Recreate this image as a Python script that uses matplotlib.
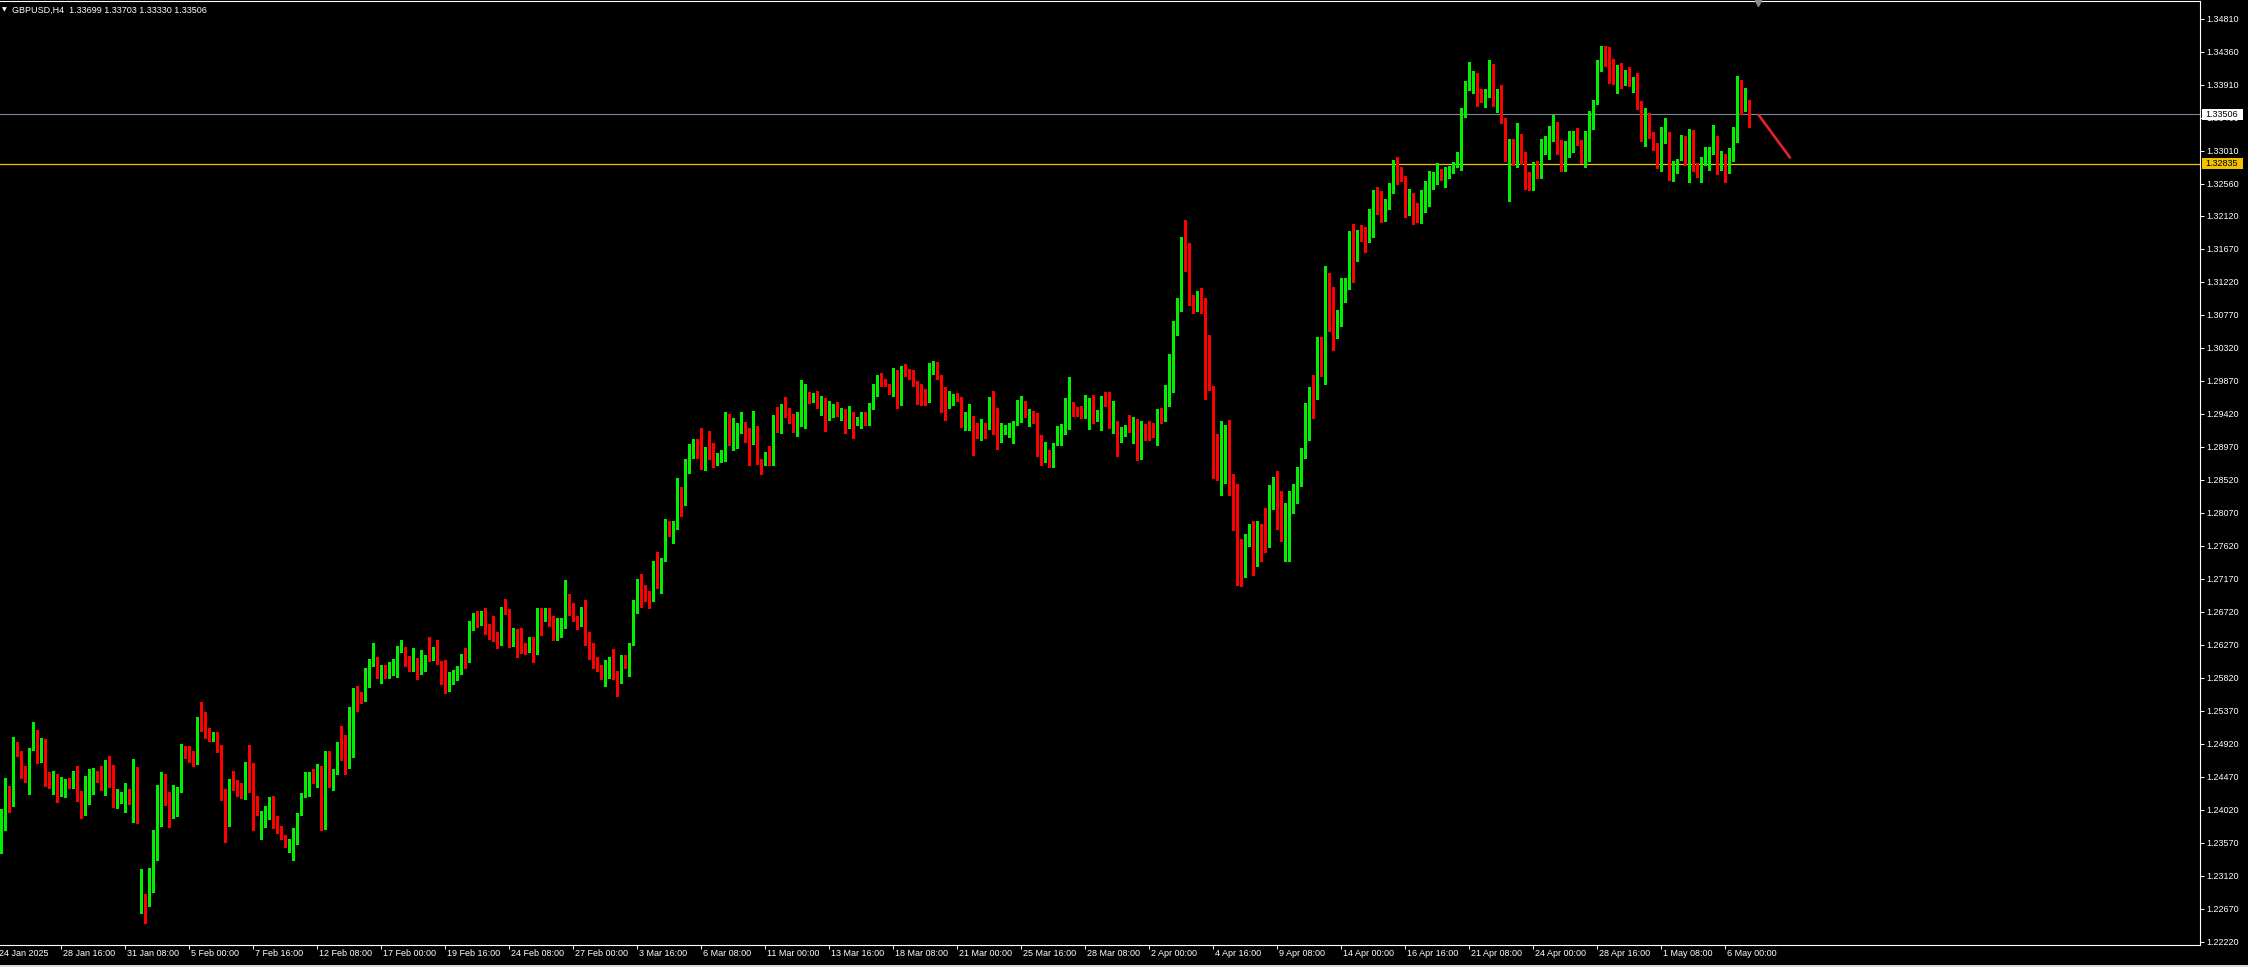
import matplotlib
matplotlib.use("Agg")
import matplotlib.pyplot as plt
import matplotlib.transforms as mtransforms
from matplotlib.patches import Rectangle
from matplotlib.lines import Line2D
import numpy as np

plt.rcParams["font.family"] = ["Liberation Sans", "DejaVu Sans"]

# GBPUSD H4 candles (one row = 10 bars)
closes = [
    1.2399, 1.2428, 1.2413, 1.2488, 1.2482, 1.2446, 1.2445, 1.2485, 1.2501, 1.2473,
    1.2499, 1.2447, 1.2443, 1.2447, 1.2421, 1.2428, 1.2439, 1.2435, 1.2454, 1.2418,
    1.2396, 1.2441, 1.2444, 1.2448, 1.2446, 1.2441, 1.2466, 1.2443, 1.2414, 1.2418,
    1.2420, 1.2421, 1.2411, 1.2454, 1.2388, 1.2287, 1.2275, 1.2291, 1.2364, 1.2394,
    1.2447, 1.2420, 1.2395, 1.2424, 1.2428, 1.2482, 1.2478, 1.2469, 1.2466, 1.2516,
    1.2512, 1.2507, 1.2501, 1.2507, 1.2482, 1.2424, 1.2381, 1.2441, 1.2432, 1.2430,
    1.2420, 1.2459, 1.2428, 1.2401, 1.2396, 1.2383, 1.2401, 1.2407, 1.2389, 1.2379,
    1.2364, 1.2359, 1.2361, 1.2366, 1.2398, 1.2422, 1.2446, 1.2450, 1.2443, 1.2446,
    1.2386, 1.2477, 1.2441, 1.2456, 1.2490, 1.2489, 1.2469, 1.2521, 1.2566, 1.2563,
    1.2552, 1.2587, 1.2602, 1.2609, 1.2583, 1.2600, 1.2586, 1.2590, 1.2593, 1.2623,
    1.2624, 1.2604, 1.2597, 1.2606, 1.2590, 1.2600, 1.2612, 1.2611, 1.2624, 1.2602,
    1.2589, 1.2571, 1.2585, 1.2586, 1.2593, 1.2613, 1.2611, 1.2651, 1.2668, 1.2654,
    1.2660, 1.2649, 1.2643, 1.2642, 1.2627, 1.2677, 1.2673, 1.2636, 1.2645, 1.2638,
    1.2619, 1.2617, 1.2637, 1.2622, 1.2671, 1.2661, 1.2666, 1.2665, 1.2637, 1.2653,
    1.2654, 1.2684, 1.2675, 1.2663, 1.2653, 1.2679, 1.2631, 1.2611, 1.2600, 1.2593,
    1.2584, 1.2594, 1.2603, 1.2588, 1.2577, 1.2608, 1.2604, 1.2629, 1.2679, 1.2716,
    1.2700, 1.2695, 1.2694, 1.2724, 1.2721, 1.2745, 1.2794, 1.2776, 1.2796, 1.2836,
    1.2821, 1.2880, 1.2894, 1.2905, 1.2901, 1.2876, 1.2897, 1.2886, 1.2878, 1.2884,
    1.2885, 1.2938, 1.2901, 1.2907, 1.2921, 1.2929, 1.2911, 1.2908, 1.2926, 1.2876,
    1.2873, 1.2889, 1.2876, 1.2934, 1.2930, 1.2949, 1.2941, 1.2935, 1.2930, 1.2934,
    1.2936, 1.2967, 1.2960, 1.2967, 1.2957, 1.2960, 1.2936, 1.2941, 1.2945, 1.2941,
    1.2949, 1.2926, 1.2938, 1.2927, 1.2937, 1.2938, 1.2932, 1.2953, 1.2979, 1.2991,
    1.2983, 1.2981, 1.2973, 1.3001, 1.2967, 1.3005, 1.2999, 1.2992, 1.2983, 1.2971,
    1.2964, 1.2962, 1.3001, 1.3003, 1.2992, 1.2954, 1.2950, 1.2961, 1.2967, 1.2962,
    1.2928, 1.2932, 1.2937, 1.2922, 1.2912, 1.2924, 1.2922, 1.2961, 1.2916, 1.2909,
    1.2920, 1.2922, 1.2923, 1.2930, 1.2945, 1.2958, 1.2940, 1.2943, 1.2930, 1.2908,
    1.2882, 1.2884, 1.2872, 1.2900, 1.2912, 1.2920, 1.2928, 1.2949, 1.2947, 1.2945,
    1.2940, 1.2952, 1.2954, 1.2940, 1.2942, 1.2960, 1.2954, 1.2926, 1.2930, 1.2907,
    1.2912, 1.2921, 1.2918, 1.2934, 1.2882, 1.2923, 1.2919, 1.2918, 1.2913, 1.2947,
    1.2938, 1.2971, 1.2995, 1.3055, 1.3091, 1.3170, 1.3145, 1.3098, 1.3097, 1.3103,
    1.3097, 1.2987, 1.2979, 1.2902, 1.2884, 1.2886, 1.2924, 1.2836, 1.2799, 1.2765,
    1.2719, 1.2774, 1.2780, 1.2743, 1.2788, 1.2780, 1.2761, 1.2830, 1.2839, 1.2820,
    1.2774, 1.2789, 1.2815, 1.2829, 1.2859, 1.2892, 1.2923, 1.2975, 1.2962, 1.3010,
    1.3003, 1.3122, 1.3091, 1.3049, 1.3074, 1.3107, 1.3125, 1.3178, 1.3156, 1.3182,
    1.3179, 1.3176, 1.3204, 1.3238, 1.3226, 1.3216, 1.3222, 1.3249, 1.3285, 1.3268,
    1.3261, 1.3216, 1.3238, 1.3214, 1.3209, 1.3241, 1.3257, 1.3258, 1.3260, 1.3270,
    1.3268, 1.3270, 1.3274, 1.3281, 1.3291, 1.3352, 1.3393, 1.3402, 1.3403, 1.3375,
    1.3372, 1.3376, 1.3418, 1.3368, 1.3374, 1.3344, 1.3288, 1.3312, 1.3298, 1.3322,
    1.3284, 1.3271, 1.3253, 1.3284, 1.3267, 1.3303, 1.3313, 1.3321, 1.3329, 1.3298,
    1.3277, 1.3299, 1.3305, 1.3325, 1.3312, 1.3286, 1.3316, 1.3343, 1.3366, 1.3412,
    1.3432, 1.3419, 1.3407, 1.3393, 1.3406, 1.3397, 1.3403, 1.3391, 1.3400, 1.3359,
    1.3320, 1.3340, 1.3321, 1.3306, 1.3288, 1.3319, 1.3322, 1.3265, 1.3271, 1.3290,
    1.3313, 1.3309, 1.3320, 1.3276, 1.3267, 1.3290, 1.3294, 1.3303, 1.3321, 1.3276,
    1.3288, 1.3272, 1.3290, 1.3317, 1.3385, 1.3365, 1.3370, 1.33506,
]

highs = [
    1.2403, 1.2446, 1.2435, 1.2501, 1.2495, 1.2470, 1.2462, 1.2486, 1.2522, 1.2511,
    1.2500, 1.2495, 1.2454, 1.2455, 1.2451, 1.2447, 1.2444, 1.2446, 1.2455, 1.2462,
    1.2428, 1.2448, 1.2458, 1.2459, 1.2455, 1.2462, 1.2470, 1.2476, 1.2463, 1.2430,
    1.2426, 1.2439, 1.2430, 1.2471, 1.2460, 1.2321, 1.2287, 1.2323, 1.2375, 1.2436,
    1.2454, 1.2451, 1.2426, 1.2436, 1.2433, 1.2492, 1.2489, 1.2489, 1.2482, 1.2529,
    1.2549, 1.2536, 1.2514, 1.2508, 1.2508, 1.2490, 1.2430, 1.2444, 1.2455, 1.2443,
    1.2439, 1.2467, 1.2490, 1.2466, 1.2421, 1.2400, 1.2407, 1.2420, 1.2421, 1.2394,
    1.2380, 1.2368, 1.2363, 1.2377, 1.2398, 1.2425, 1.2454, 1.2454, 1.2458, 1.2465,
    1.2462, 1.2482, 1.2482, 1.2458, 1.2495, 1.2516, 1.2504, 1.2542, 1.2568, 1.2571,
    1.2563, 1.2596, 1.2608, 1.2630, 1.2611, 1.2600, 1.2600, 1.2604, 1.2608, 1.2626,
    1.2634, 1.2623, 1.2612, 1.2623, 1.2609, 1.2620, 1.2613, 1.2638, 1.2624, 1.2634,
    1.2605, 1.2606, 1.2590, 1.2593, 1.2598, 1.2615, 1.2623, 1.2660, 1.2671, 1.2673,
    1.2673, 1.2677, 1.2656, 1.2666, 1.2645, 1.2679, 1.2690, 1.2676, 1.2650, 1.2649,
    1.2650, 1.2630, 1.2638, 1.2638, 1.2677, 1.2677, 1.2677, 1.2677, 1.2666, 1.2664,
    1.2664, 1.2716, 1.2696, 1.2684, 1.2667, 1.2679, 1.2688, 1.2645, 1.2630, 1.2611,
    1.2600, 1.2606, 1.2610, 1.2621, 1.2591, 1.2613, 1.2613, 1.2630, 1.2688, 1.2717,
    1.2724, 1.2709, 1.2700, 1.2741, 1.2754, 1.2746, 1.2799, 1.2796, 1.2796, 1.2855,
    1.2843, 1.2881, 1.2901, 1.2908, 1.2908, 1.2923, 1.2897, 1.2919, 1.2902, 1.2889,
    1.2893, 1.2945, 1.2942, 1.2936, 1.2930, 1.2945, 1.2931, 1.2923, 1.2946, 1.2926,
    1.2881, 1.2890, 1.2898, 1.2941, 1.2952, 1.2956, 1.2965, 1.2950, 1.2942, 1.2945,
    1.2988, 1.2983, 1.2972, 1.2971, 1.2973, 1.2967, 1.2964, 1.2960, 1.2956, 1.2958,
    1.2950, 1.2949, 1.2953, 1.2945, 1.2938, 1.2945, 1.2945, 1.2957, 1.2983, 1.2995,
    1.2998, 1.2990, 1.2983, 1.3005, 1.3002, 1.3007, 1.3010, 1.3003, 1.3002, 1.2987,
    1.2983, 1.2976, 1.3012, 1.3014, 1.3013, 1.2995, 1.2979, 1.2973, 1.2969, 1.2971,
    1.2965, 1.2945, 1.2956, 1.2939, 1.2930, 1.2935, 1.2930, 1.2965, 1.2973, 1.2950,
    1.2930, 1.2927, 1.2929, 1.2932, 1.2961, 1.2967, 1.2959, 1.2949, 1.2946, 1.2943,
    1.2913, 1.2904, 1.2893, 1.2902, 1.2926, 1.2928, 1.2964, 1.2992, 1.2958, 1.2952,
    1.2953, 1.2968, 1.2964, 1.2968, 1.2947, 1.2967, 1.2972, 1.2972, 1.2960, 1.2932,
    1.2924, 1.2927, 1.2941, 1.2938, 1.2935, 1.2932, 1.2928, 1.2932, 1.2930, 1.2949,
    1.2950, 1.2982, 1.3024, 1.3069, 1.3100, 1.3183, 1.3207, 1.3175, 1.3104, 1.3110,
    1.3114, 1.3100, 1.3050, 1.2980, 1.2915, 1.2932, 1.2927, 1.2934, 1.2860, 1.2847,
    1.2772, 1.2778, 1.2792, 1.2796, 1.2796, 1.2792, 1.2814, 1.2845, 1.2856, 1.2864,
    1.2837, 1.2821, 1.2837, 1.2847, 1.2870, 1.2895, 1.2957, 1.2979, 1.2995, 1.3047,
    1.3047, 1.3144, 1.3134, 1.3115, 1.3084, 1.3127, 1.3127, 1.3192, 1.3201, 1.3193,
    1.3200, 1.3197, 1.3222, 1.3248, 1.3251, 1.3246, 1.3235, 1.3257, 1.3288, 1.3292,
    1.3279, 1.3267, 1.3249, 1.3243, 1.3230, 1.3248, 1.3259, 1.3273, 1.3272, 1.3284,
    1.3276, 1.3279, 1.3280, 1.3286, 1.3299, 1.3359, 1.3396, 1.3422, 1.3410, 1.3407,
    1.3385, 1.3385, 1.3424, 1.3419, 1.3385, 1.3390, 1.3346, 1.3317, 1.3317, 1.3339,
    1.3324, 1.3299, 1.3272, 1.3286, 1.3287, 1.3317, 1.3321, 1.3335, 1.3350, 1.3340,
    1.3316, 1.3314, 1.3328, 1.3328, 1.3332, 1.3316, 1.3328, 1.3355, 1.3370, 1.3425,
    1.3444, 1.3444, 1.3442, 1.3426, 1.3418, 1.3421, 1.3411, 1.3415, 1.3401, 1.3407,
    1.3369, 1.3359, 1.3352, 1.3327, 1.3312, 1.3333, 1.3346, 1.3327, 1.3287, 1.3290,
    1.3322, 1.3321, 1.3331, 1.3329, 1.3284, 1.3292, 1.3306, 1.3306, 1.3336, 1.3317,
    1.3301, 1.3297, 1.3305, 1.3333, 1.3403, 1.3397, 1.3387, 1.33703,
]

lows = [
    1.2343, 1.2375, 1.2399, 1.2407, 1.2476, 1.2445, 1.2440, 1.2424, 1.2484, 1.2466,
    1.2467, 1.2435, 1.2432, 1.2424, 1.2413, 1.2421, 1.2420, 1.2432, 1.2432, 1.2414,
    1.2391, 1.2395, 1.2410, 1.2424, 1.2440, 1.2429, 1.2422, 1.2433, 1.2406, 1.2405,
    1.2411, 1.2399, 1.2410, 1.2385, 1.2384, 1.2261, 1.2248, 1.2271, 1.2290, 1.2334,
    1.2380, 1.2409, 1.2379, 1.2391, 1.2394, 1.2426, 1.2473, 1.2468, 1.2462, 1.2465,
    1.2510, 1.2500, 1.2496, 1.2496, 1.2481, 1.2415, 1.2358, 1.2380, 1.2429, 1.2421,
    1.2418, 1.2417, 1.2427, 1.2375, 1.2395, 1.2363, 1.2379, 1.2390, 1.2378, 1.2370,
    1.2363, 1.2352, 1.2344, 1.2334, 1.2355, 1.2395, 1.2420, 1.2421, 1.2439, 1.2433,
    1.2375, 1.2376, 1.2433, 1.2429, 1.2451, 1.2470, 1.2451, 1.2459, 1.2474, 1.2537,
    1.2548, 1.2551, 1.2570, 1.2598, 1.2582, 1.2575, 1.2582, 1.2582, 1.2586, 1.2583,
    1.2617, 1.2598, 1.2591, 1.2591, 1.2580, 1.2587, 1.2591, 1.2605, 1.2606, 1.2601,
    1.2574, 1.2561, 1.2564, 1.2574, 1.2579, 1.2587, 1.2596, 1.2604, 1.2647, 1.2651,
    1.2654, 1.2642, 1.2635, 1.2632, 1.2623, 1.2627, 1.2669, 1.2624, 1.2625, 1.2611,
    1.2616, 1.2615, 1.2620, 1.2604, 1.2614, 1.2640, 1.2659, 1.2653, 1.2634, 1.2634,
    1.2638, 1.2650, 1.2668, 1.2660, 1.2649, 1.2653, 1.2627, 1.2608, 1.2596, 1.2592,
    1.2580, 1.2571, 1.2582, 1.2580, 1.2558, 1.2575, 1.2596, 1.2584, 1.2627, 1.2671,
    1.2679, 1.2687, 1.2678, 1.2687, 1.2704, 1.2698, 1.2741, 1.2775, 1.2766, 1.2785,
    1.2803, 1.2818, 1.2862, 1.2882, 1.2882, 1.2867, 1.2865, 1.2880, 1.2870, 1.2873,
    1.2876, 1.2878, 1.2900, 1.2893, 1.2896, 1.2916, 1.2904, 1.2873, 1.2901, 1.2874,
    1.2860, 1.2872, 1.2872, 1.2873, 1.2917, 1.2916, 1.2938, 1.2930, 1.2917, 1.2912,
    1.2926, 1.2923, 1.2957, 1.2958, 1.2950, 1.2941, 1.2919, 1.2934, 1.2938, 1.2939,
    1.2934, 1.2916, 1.2923, 1.2909, 1.2927, 1.2923, 1.2927, 1.2927, 1.2949, 1.2967,
    1.2980, 1.2980, 1.2969, 1.2967, 1.2950, 1.2954, 1.2994, 1.2990, 1.2980, 1.2956,
    1.2954, 1.2954, 1.2958, 1.2997, 1.2990, 1.2945, 1.2934, 1.2950, 1.2954, 1.2960,
    1.2924, 1.2920, 1.2920, 1.2886, 1.2909, 1.2906, 1.2909, 1.2921, 1.2915, 1.2894,
    1.2904, 1.2915, 1.2911, 1.2902, 1.2927, 1.2931, 1.2938, 1.2926, 1.2929, 1.2885,
    1.2873, 1.2876, 1.2870, 1.2870, 1.2899, 1.2900, 1.2914, 1.2921, 1.2939, 1.2939,
    1.2937, 1.2937, 1.2921, 1.2930, 1.2933, 1.2920, 1.2953, 1.2923, 1.2916, 1.2885,
    1.2904, 1.2912, 1.2917, 1.2902, 1.2879, 1.2881, 1.2907, 1.2906, 1.2911, 1.2899,
    1.2929, 1.2933, 1.2953, 1.2972, 1.3049, 1.3083, 1.3137, 1.3091, 1.3079, 1.3083,
    1.3080, 1.2962, 1.2975, 1.2855, 1.2852, 1.2832, 1.2848, 1.2831, 1.2784, 1.2709,
    1.2707, 1.2719, 1.2762, 1.2723, 1.2734, 1.2742, 1.2754, 1.2760, 1.2813, 1.2785,
    1.2769, 1.2741, 1.2741, 1.2807, 1.2821, 1.2844, 1.2882, 1.2906, 1.2937, 1.2962,
    1.2994, 1.2983, 1.3055, 1.3029, 1.3046, 1.3062, 1.3095, 1.3113, 1.3122, 1.3151,
    1.3178, 1.3163, 1.3176, 1.3183, 1.3215, 1.3204, 1.3205, 1.3222, 1.3243, 1.3256,
    1.3260, 1.3211, 1.3213, 1.3201, 1.3204, 1.3203, 1.3217, 1.3226, 1.3249, 1.3256,
    1.3261, 1.3251, 1.3264, 1.3270, 1.3279, 1.3275, 1.3347, 1.3384, 1.3379, 1.3362,
    1.3368, 1.3361, 1.3374, 1.3362, 1.3354, 1.3339, 1.3287, 1.3233, 1.3281, 1.3279,
    1.3283, 1.3249, 1.3247, 1.3247, 1.3264, 1.3264, 1.3297, 1.3290, 1.3314, 1.3297,
    1.3273, 1.3273, 1.3292, 1.3299, 1.3309, 1.3284, 1.3279, 1.3287, 1.3331, 1.3365,
    1.3410, 1.3417, 1.3393, 1.3392, 1.3380, 1.3387, 1.3391, 1.3389, 1.3381, 1.3358,
    1.3314, 1.3307, 1.3318, 1.3302, 1.3277, 1.3273, 1.3312, 1.3261, 1.3260, 1.3270,
    1.3288, 1.3281, 1.3258, 1.3273, 1.3265, 1.3258, 1.3281, 1.3275, 1.3297, 1.3269,
    1.3275, 1.3258, 1.3271, 1.3287, 1.3313, 1.3351, 1.3355, 1.33330,
]

# opens differ from the previous close only at the first bar and after weekends
gap_opens = {
    0: 1.2343, 35: 1.2282, 65: 1.2372, 95: 1.2589, 125: 1.2630, 215: 1.2924,
    245: 1.2907, 275: 1.2929, 305: 1.2843, 335: 1.3084, 365: 1.3278,
    395: 1.3305, 425: 1.3261, 437: 1.33699,
}

bid_price = 1.33506
level_price = 1.32835

forecast_bars = [439.2, 447.3]
forecast_prices = [1.33506, 1.32906]

date_bars = [-1, 15, 31, 47, 63, 79, 95, 111, 127, 143, 159, 175, 191, 207,
             223, 239, 255, 271, 287, 303, 319, 335, 351, 367, 383, 399, 415, 431]
date_labels = ["24 Jan 2025", "28 Jan 16:00", "31 Jan 08:00", "5 Feb 00:00",
               "7 Feb 16:00", "12 Feb 08:00", "17 Feb 00:00", "19 Feb 16:00",
               "24 Feb 08:00", "27 Feb 00:00", "3 Mar 16:00", "6 Mar 08:00",
               "11 Mar 00:00", "13 Mar 16:00", "18 Mar 08:00", "21 Mar 00:00",
               "25 Mar 16:00", "28 Mar 08:00", "2 Apr 00:00", "4 Apr 16:00",
               "9 Apr 08:00", "14 Apr 00:00", "16 Apr 16:00", "21 Apr 08:00",
               "24 Apr 00:00", "28 Apr 16:00", "1 May 08:00", "6 May 00:00"]

price_labels = ["1.22220", "1.22670", "1.23120", "1.23570", "1.24020", "1.24470",
                "1.24920", "1.25370", "1.25820", "1.26270", "1.26720", "1.27170",
                "1.27620", "1.28070", "1.28520", "1.28970", "1.29420", "1.29870",
                "1.30320", "1.30770", "1.31220", "1.31670", "1.32120", "1.32560",
                "1.33010", "1.33460", "1.33910", "1.34360", "1.34810"]

BULL = "#00f000"
BEAR = "#ff0000"
W, H = 2248, 967


def main():
    c = np.array(closes)
    hi = np.array(highs)
    lo = np.array(lows)
    o = np.concatenate([[c[0]], c[:-1]])
    for i, v in gap_opens.items():
        o[i] = v
    hi = np.maximum(hi, np.maximum(o, c))
    lo = np.minimum(lo, np.minimum(o, c))
    x = np.arange(len(c))
    cols = np.where(c >= o, BULL, BEAR)

    fig = plt.figure(figsize=(W / 100, H / 100), dpi=100, facecolor="black")
    ax = fig.add_axes([0, 22 / H, 2200 / W, 944 / H])
    ax.set_facecolor("black")
    ax.set_xlim(-0.333, 549.667)
    ax.set_ylim(1.22178, 1.35051)

    ax.axhline(bid_price, color="#778899", lw=0.8, zorder=1)
    ax.axhline(level_price, color="#f2c200", lw=0.9, zorder=1)

    ax.vlines(x, lo, hi, colors=cols, lw=0.75, antialiased=False, zorder=2)
    body = np.maximum(np.abs(c - o), 0.00014)
    ax.bar(x, body, bottom=np.minimum(o, c), width=0.75, color=cols,
           linewidth=0, antialiased=False, zorder=3)

    ax.plot(forecast_bars, forecast_prices, color="#e8202c", lw=1.9,
            solid_capstyle="butt", zorder=4)

    for side in ("top", "right", "bottom"):
        ax.spines[side].set_color("white")
        ax.spines[side].set_linewidth(0.8)
    ax.spines["left"].set_visible(False)

    ax.yaxis.tick_right()
    ax.set_yticks([float(s) for s in price_labels])
    ax.set_yticklabels(price_labels)
    ax.tick_params(axis="y", colors="white", length=3, width=0.7, pad=1.5,
                   labelsize=6.5)

    ax.set_xticks([b for b in date_bars if b >= 0])
    ax.tick_params(axis="x", colors="white", length=3, width=0.7,
                   labelbottom=False)
    trans = mtransforms.blended_transform_factory(ax.transData, fig.transFigure)
    for b, lab in zip(date_bars, date_labels):
        ax.text(b + 0.3, 1 - 954 / H, lab, transform=trans, color="white",
                fontsize=6.5, ha="left", va="center", clip_on=False)

    # price boxes on the right scale
    fig.add_artist(Rectangle((2202 / W, 1 - 119.8 / H), 41 / W, 11 / H,
                             transform=fig.transFigure, facecolor="white",
                             edgecolor="none", zorder=5))
    fig.text(2205 / W, 1 - 114.5 / H, f"{bid_price:.5f}", color="black",
             fontsize=6.5, ha="left", va="center", zorder=6)
    fig.add_artist(Rectangle((2202 / W, 1 - 168.8 / H), 41 / W, 11 / H,
                             transform=fig.transFigure, facecolor="#f2c200",
                             edgecolor="none", zorder=5))
    fig.text(2205 / W, 1 - 163.5 / H, f"{level_price:.5f}", color="black",
             fontsize=6.5, ha="left", va="center", zorder=6)

    fig.text(2 / W, 1 - 10 / H, "\u25bc", color="white", fontsize=4.5,
             family="DejaVu Sans", ha="left", va="center")
    fig.text(12 / W, 1 - 10 / H, "GBPUSD,H4  1.33699 1.33703 1.33330 1.33506",
             color="white", fontsize=6.5, ha="left", va="center")
    fig.add_artist(Line2D([1758 / W], [1 - 3 / H], marker="v", markersize=4,
                          color="#8a8a8a", transform=fig.transFigure))
    fig.add_artist(Rectangle((0, 0), 1, 2 / H, transform=fig.transFigure,
                             facecolor="#d8d8d8", edgecolor="none"))

    fig.savefig("out.png", dpi=100, facecolor="black")


if __name__ == "__main__":
    main()
